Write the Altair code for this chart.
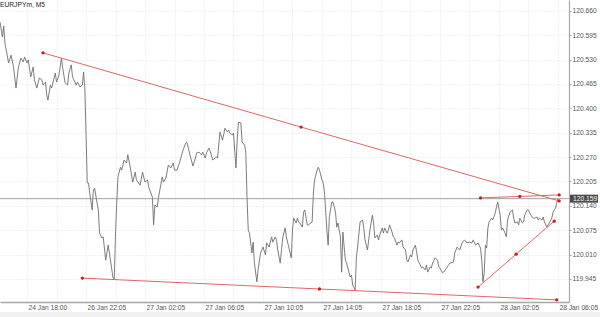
import altair as alt
import pandas as pd

SYMBOL = "EURJPYm, M5"

# M5 bar index (0 = first visible bar) and close price
bars = [
    0, 2, 3, 4, 7, 9, 11, 13, 15, 17,
    19, 20, 22, 23, 25, 27, 28, 30, 32, 34,
    35, 37, 38, 39, 41, 42, 45, 46, 48, 50,
    51, 53, 55, 56, 58, 59, 62, 63, 65, 67,
    68, 69, 70, 71, 72, 73, 75, 76, 77, 79,
    80, 81, 83, 84, 86, 88, 89, 92, 93, 94,
    95, 96, 98, 99, 101, 103, 104, 106, 108, 110,
    111, 114, 116, 118, 120, 121, 124, 125, 126, 128,
    129, 132, 133, 135, 137, 139, 141, 142, 144, 146,
    149, 151, 152, 153, 155, 157, 159, 160, 162, 164,
    165, 167, 168, 170, 172, 173, 176, 177, 179, 181,
    182, 183, 185, 186, 187, 189, 190, 192, 193, 194,
    196, 197, 199, 200, 201, 202, 203, 205, 206, 207,
    209, 210, 212, 214, 216, 217, 219, 221, 222, 224,
    225, 226, 228, 230, 232, 233, 234, 237, 238, 239,
    241, 242, 243, 245, 246, 247, 248, 250, 251, 254,
    255, 256, 258, 259, 260, 262, 263, 264, 266, 267,
    268, 270, 271, 273, 274, 275, 277, 278, 279, 281,
    282, 285, 286, 287, 289, 290, 291, 293, 295, 296,
    297, 299, 300, 301, 303, 304, 305, 307, 308, 309,
    311, 312, 313, 315, 316, 317, 319, 320, 321, 323,
    324, 325, 327, 328, 330, 331, 332, 334, 335, 336,
    338, 339, 340, 342, 343, 344, 346, 347, 348, 350,
    351, 352, 354, 356, 357, 358, 360, 361, 364, 366,
    369, 370, 372, 373, 374, 376, 378, 380, 382, 384,
    385, 387, 389, 391, 392, 393, 394, 395, 396, 397,
    398, 400, 401, 403, 404, 405, 407, 408, 409, 411,
    412, 413, 415, 417, 418, 419, 421, 422, 423, 425,
    426, 427, 429, 430, 431, 433, 434, 435, 437, 438,
    439, 441, 442, 443, 445, 446, 447, 449, 450, 452,
    453, 454,
]
prices = [
    120.630, 120.590, 120.620, 120.574, 120.521, 120.542, 120.510, 120.454, 120.510, 120.534,
    120.524, 120.537, 120.521, 120.529, 120.484, 120.510, 120.476, 120.454, 120.481, 120.476,
    120.462, 120.470, 120.436, 120.422, 120.462, 120.454, 120.494, 120.470, 120.489, 120.534,
    120.508, 120.468, 120.462, 120.494, 120.516, 120.484, 120.462, 120.470, 120.457, 120.462,
    120.497, 120.454, 120.334, 120.201, 120.201, 120.174, 120.129, 120.182, 120.187, 120.147,
    120.129, 120.067, 120.054, 120.057, 119.995, 120.035, 120.014, 119.947, 119.945, 120.067,
    120.150, 120.217, 120.243, 120.235, 120.262, 120.254, 120.276, 120.243, 120.203, 120.230,
    120.209, 120.195, 120.230, 120.203, 120.209, 120.190, 120.163, 120.089, 120.142, 120.137,
    120.163, 120.217, 120.203, 120.214, 120.249, 120.241, 120.254, 120.235, 120.235, 120.254,
    120.289, 120.307, 120.310, 120.297, 120.270, 120.246, 120.267, 120.281, 120.283, 120.276,
    120.283, 120.267, 120.281, 120.294, 120.276, 120.262, 120.270, 120.267, 120.337, 120.315,
    120.329, 120.347, 120.337, 120.342, 120.334, 120.329, 120.334, 120.241, 120.315, 120.363,
    120.361, 120.310, 120.302, 120.283, 120.163, 120.075, 120.067, 120.014, 120.043, 119.987,
    119.937, 119.969, 120.014, 120.030, 120.009, 120.041, 120.030, 120.057, 120.043, 120.057,
    120.049, 120.022, 119.987, 120.054, 120.081, 120.057, 120.043, 120.001, 120.075, 120.107,
    120.094, 120.107, 120.097, 120.089, 120.083, 120.123, 120.129, 120.089, 120.089, 120.097,
    120.174, 120.209, 120.235, 120.243, 120.235, 120.209, 120.201, 120.177, 120.075, 120.035,
    120.110, 120.150, 120.150, 120.123, 120.083, 120.094, 120.057, 119.963, 120.070, 119.995,
    119.987, 119.950, 119.955, 119.929, 119.915, 120.003, 120.030, 120.097, 120.102, 120.081,
    120.049, 120.022, 120.049, 120.075, 120.115, 120.094, 120.054, 120.062, 120.049, 120.062,
    120.081, 120.067, 120.081, 120.067, 120.075, 120.089, 120.070, 120.057, 120.054, 120.035,
    120.043, 120.041, 120.049, 120.030, 120.022, 119.995, 119.990, 120.009, 120.003, 120.022,
    120.035, 120.017, 119.995, 119.982, 119.974, 119.977, 119.969, 119.982, 119.963, 119.977,
    119.974, 119.987, 120.001, 119.995, 119.977, 119.974, 119.961, 119.963, 119.977, 119.987,
    119.990, 120.014, 120.030, 120.027, 120.022, 120.041, 120.049, 120.041, 120.043, 120.041,
    120.049, 120.035, 120.041, 120.027, 119.995, 119.937, 119.961, 120.035, 120.027, 120.081,
    120.097, 120.107, 120.102, 120.121, 120.137, 120.150, 120.115, 120.075, 120.081, 120.067,
    120.057, 120.102, 120.123, 120.129, 120.107, 120.094, 120.097, 120.089, 120.107, 120.094,
    120.097, 120.115, 120.129, 120.129, 120.121, 120.110, 120.107, 120.107, 120.110, 120.102,
    120.107, 120.102, 120.110, 120.097, 120.083, 120.089, 120.094, 120.107, 120.123, 120.134,
    120.147, 120.159,
]
assert len(bars) == len(prices)

# trend lines: start, middle, end anchor points
trend_ids = ["A", "A", "A", "B", "B", "B", "C", "C", "C", "D", "D", "D"]
trend_bars = [35, 245, 455, 391, 423, 455, 389, 420, 451, 67, 260, 453]
trend_prices = [120.548, 120.350, 120.153,
                120.161, 120.165, 120.169,
                119.923, 120.011, 120.099,
                119.947, 119.918, 119.889]

last_price = [120.159]

y_ticks = [120.660, 120.595, 120.530, 120.465, 120.400, 120.335,
           120.270, 120.205, 120.140, 120.075, 120.010, 119.945]
x_tick_bars = [22, 70, 118, 166, 214, 262, 310, 358, 406, 454]
x_tick_labels = ["24 Jan 18:00", "26 Jan 22:05", "27 Jan 02:05", "27 Jan 06:05",
                 "27 Jan 10:05", "27 Jan 14:05", "27 Jan 18:05", "27 Jan 22:05",
                 "28 Jan 02:05", "28 Jan 06:05"]
x_grid_bars = [22, 46, 70, 94, 118, 142, 166, 190, 214, 238, 262, 286, 310,
               334, 358, 382, 406, 430, 454]

FONT = "Liberation Sans"
FS = 6.7

series = pd.DataFrame({"bar": bars, "price": prices})
trends = pd.DataFrame({"id": trend_ids, "bar": trend_bars, "price": trend_prices})
lastdf = pd.DataFrame({"price": last_price})
titledf = pd.DataFrame({"t": [SYMBOL]})

xscale = alt.Scale(domain=[0, 463], nice=False, zero=False)
yscale = alt.Scale(domain=[119.8833, 120.689], nice=False, zero=False)

label_expr = ""
for b, l in zip(x_tick_bars, x_tick_labels):
    label_expr += f"datum.value == {b} ? '{l}' : "
label_expr += "''"

x_axis = alt.Axis(values=x_grid_bars, labelExpr=label_expr, grid=True,
                  gridColor="#dadada", gridDash=[1, 2], gridWidth=0.8,
                  domainColor="#a8a8a8", domainWidth=1.5, ticks=False,
                  labelAlign="left", labelOffset=1, labelPadding=2,
                  labelBaseline="top", labelFont=FONT, labelFontSize=FS,
                  labelColor="#555555", labelOverlap=False, labelFlush=False,
                  labelBound=False, title=None)
y_axis = alt.Axis(orient="right", values=y_ticks, format=".3f", grid=True,
                  gridColor="#dadada", gridDash=[1, 2], gridWidth=0.8,
                  domainColor="#a8a8a8", domainWidth=1.2, tickSize=2,
                  tickColor="#a8a8a8", labelPadding=1, labelFont=FONT,
                  labelFontSize=FS, labelColor="#555555", labelOverlap=False,
                  labelFlush=False, labelBound=False, title=None)

X = alt.X("bar:Q", scale=xscale, axis=x_axis)
Y = alt.Y("price:Q", scale=yscale, axis=y_axis)

strip = alt.Chart(titledf).mark_rect(color="#f0f0f0").encode(
    x=alt.value(0), x2=alt.value(600), y=alt.value(312), y2=alt.value(317))

price_line = alt.Chart(series).mark_line(color="#6e6e6e", strokeWidth=0.9).encode(x=X, y=Y)

bid_rule = alt.Chart(lastdf).mark_rule(color="#8c8c8c", strokeWidth=0.8).encode(y=Y)

trend_lines = alt.Chart(trends).mark_line(color="#e06666", strokeWidth=1).encode(
    x=X, y=Y, detail="id:N")
trend_pts = alt.Chart(trends).mark_point(filled=True, color="#c81e1e", size=11, opacity=1).encode(
    x=X, y=Y)

price_box = alt.Chart(lastdf).mark_rule(color="#4a4a4a", strokeWidth=8).encode(
    x=alt.value(570), x2=alt.value(598), y=Y)
price_txt = alt.Chart(lastdf).mark_text(align="left", baseline="middle", color="white",
                                        font=FONT, fontSize=FS).encode(
    x=alt.value(573), y=Y, text=alt.Text("price:Q", format=".3f"))

title_txt = alt.Chart(titledf).mark_text(align="left", baseline="middle", color="#222222",
                                         font=FONT, fontSize=FS).encode(
    x=alt.value(0), y=alt.value(5), text="t:N")

chart = alt.layer(price_line, strip, bid_rule, trend_lines, trend_pts,
                  price_box, price_txt, title_txt).properties(
    width=569, height=302,
    padding={"left": 0, "top": 0, "right": 31, "bottom": 15},
    autosize=alt.AutoSizeParams(type="none"),
    background="white",
).configure_view(strokeWidth=0)

chart.save("out.html", embed_options={"renderer": "svg", "actions": False})
